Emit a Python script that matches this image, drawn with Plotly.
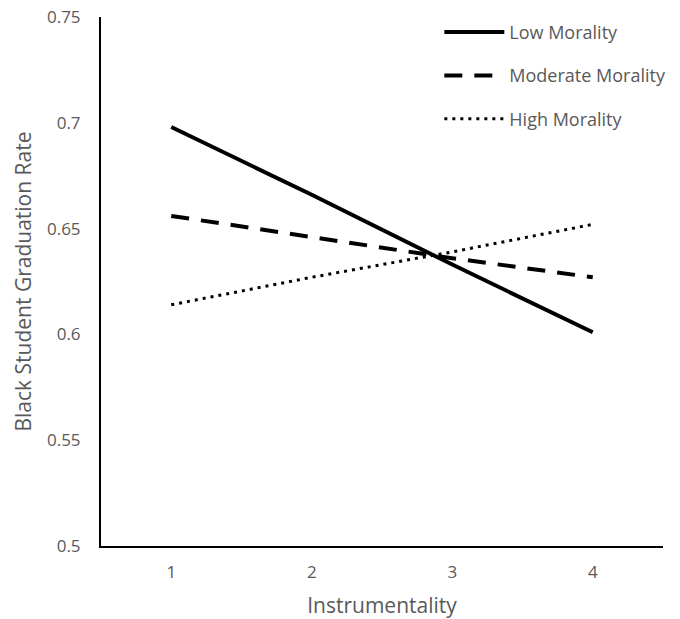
import plotly.graph_objects as go

x_labels = ["1", "2", "3", "4"]
low_morality = [0.698, 0.666, 0.633, 0.601]
moderate_morality = [0.656, 0.646, 0.636, 0.627]
high_morality = [0.614, 0.627, 0.639, 0.652]
y_ticks = [0.5, 0.55, 0.6, 0.65, 0.7, 0.75]
y_tick_text = ["0.5", "0.55", "0.6", "0.65", "0.7", "0.75"]

font_family = "Open Sans"
grey = "#595959"

fig = go.Figure()
fig.add_trace(go.Scatter(x=x_labels, y=low_morality, mode="lines", name="Low Morality",
                         line=dict(color="black", width=4), legendgroup="a"))
fig.add_trace(go.Scatter(x=x_labels, y=moderate_morality, mode="lines", name="Moderate Morality",
                         line=dict(color="black", width=4, dash="18px,12px"), legendgroup="b"))
fig.add_trace(go.Scatter(x=x_labels, y=high_morality, mode="lines", name="High Morality",
                         line=dict(color="black", width=3, dash="3px,5px"), legendgroup="c"))

fig.update_layout(
    width=680, height=619,
    margin=dict(l=101, r=17, t=17, b=73, autoexpand=False),
    paper_bgcolor="white", plot_bgcolor="white",
    font=dict(family=font_family, color=grey, size=17),
    showlegend=True,
    legend=dict(x=0.602, y=1.006, xanchor="left", yanchor="top",
                itemwidth=60, traceorder="grouped", tracegroupgap=17,
                font=dict(size=18, color=grey), bgcolor="rgba(0,0,0,0)"),
    xaxis=dict(type="category", range=[-0.5, 3.5], showgrid=False, zeroline=False,
               showline=True, linecolor="black", linewidth=2, automargin=False,
               ticks="", ticklabelstandoff=10,
               title=dict(text="Instrumentality", font=dict(size=21, color=grey), standoff=17)),
    yaxis=dict(range=[0.5, 0.75], tickvals=y_ticks, ticktext=y_tick_text,
               showgrid=False, zeroline=False, ticklabeloverflow="allow", automargin=False,
               showline=True, linecolor="black", linewidth=2,
               ticks="", ticklabelstandoff=15,
               title=dict(text="Black Student Graduation Rate", font=dict(size=21, color=grey), standoff=10)),
)

fig.write_html("out.html", config={"displayModeBar": False},
               post_script="document.body.style.margin='0';")
